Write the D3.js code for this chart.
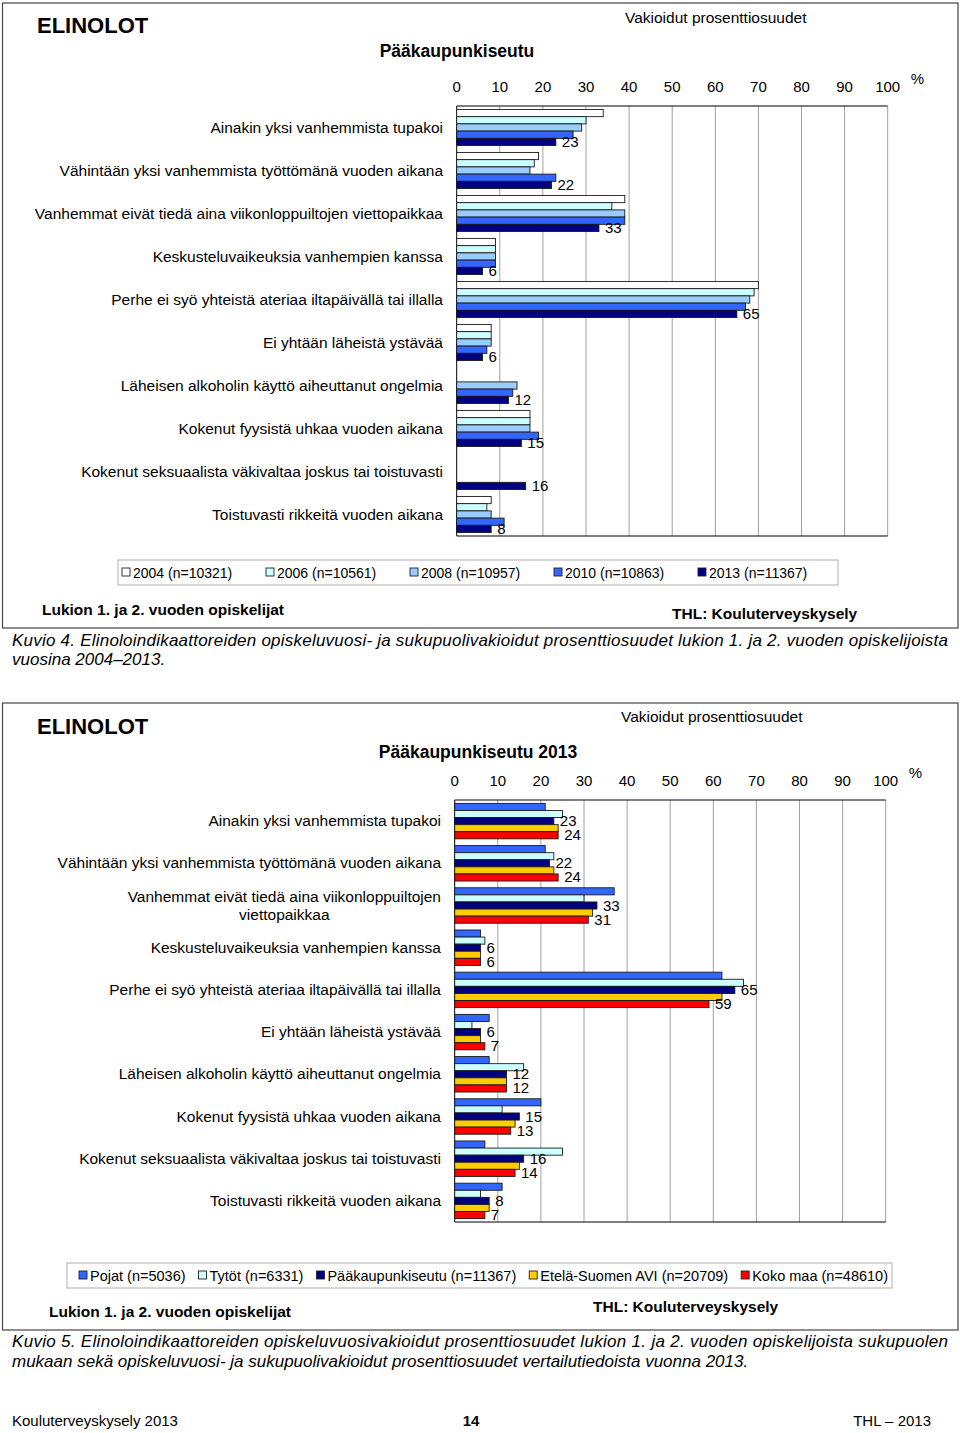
<!DOCTYPE html>
<html><head><meta charset="utf-8">
<script src="https://cdn.jsdelivr.net/npm/d3@7"></script>
<style>body{margin:0;background:#fff}svg{display:block;font-family:"Liberation Sans",Arial,sans-serif}</style>
</head><body><svg id="c" width="960" height="1433"></svg>
<script>
// ---------- DATA ----------
const categoriesTop = [
 "Ainakin yksi vanhemmista tupakoi",
 "Vähintään yksi vanhemmista työttömänä vuoden aikana",
 "Vanhemmat eivät tiedä aina viikonloppuiltojen viettopaikkaa",
 "Keskusteluvaikeuksia vanhempien kanssa",
 "Perhe ei syö yhteistä ateriaa iltapäivällä tai illalla",
 "Ei yhtään läheistä ystävää",
 "Läheisen alkoholin käyttö aiheuttanut ongelmia",
 "Kokenut fyysistä uhkaa vuoden aikana",
 "Kokenut seksuaalista väkivaltaa joskus tai toistuvasti",
 "Toistuvasti rikkeitä vuoden aikana"];
const categoriesBottom = [
 ["Ainakin yksi vanhemmista tupakoi"],
 ["Vähintään yksi vanhemmista työttömänä vuoden aikana"],
 ["Vanhemmat eivät tiedä aina viikonloppuiltojen","viettopaikkaa"],
 ["Keskusteluvaikeuksia vanhempien kanssa"],
 ["Perhe ei syö yhteistä ateriaa iltapäivällä tai illalla"],
 ["Ei yhtään läheistä ystävää"],
 ["Läheisen alkoholin käyttö aiheuttanut ongelmia"],
 ["Kokenut fyysistä uhkaa vuoden aikana"],
 ["Kokenut seksuaalista väkivaltaa joskus tai toistuvasti"],
 ["Toistuvasti rikkeitä vuoden aikana"]];
const seriesTop = ["2004 (n=10321)","2006 (n=10561)","2008 (n=10957)","2010 (n=10863)","2013 (n=11367)"];
const v2004 = [34,19,39,9,70,8,null,17,null,8];
const v2006 = [30,18,36,9,69,8,null,17,null,7];
const v2008 = [29,17,39,9,68,8,14,17,null,8];
const v2010 = [27,23,39,9,67,7,13,19,null,11];
const v2013 = [23,22,33,6,65,6,12,15,16,8];
const seriesBottom = ["Pojat (n=5036)","Tytöt (n=6331)","Pääkaupunkiseutu (n=11367)","Etelä-Suomen AVI (n=20709)","Koko maa (n=48610)"];
const pojat = [21,21,37,6,62,8,8,20,7,11];
const tytot = [25,23,30,7,67,4,16,11,25,6];
const pks   = [23,22,33,6,65,6,12,15,16,8];
const esavi = [24,23,32,6,62,6,12,14,15,8];
const kokomaa=[24,24,31,6,59,7,12,13,14,7];
const ticks = [0,10,20,30,40,50,60,70,80,90,100];

const colorsTop = ["#ffffff","#ccffff","#99ccff","#3366ff","#000080"];
const colorsBottom = ["#3366ff","#ccffff","#000080","#ffcc00","#ff0000"];

const svg = d3.select("#c");
svg.append("rect").attr("width",960).attr("height",1433).attr("fill","#fff");

function panel(y0,y1){
  svg.append("rect").attr("x",2.5).attr("y",y0).attr("width",955.5).attr("height",y1-y0)
    .attr("fill","none").attr("stroke","#444").attr("stroke-width",1.2);
}
function txt(x,y,s,opt={}){
  const t = svg.append("text").attr("x",x).attr("y",y).text(s)
    .attr("font-size",opt.size||15).attr("fill","#000");
  if(opt.bold) t.attr("font-weight","bold");
  if(opt.italic) t.attr("font-style","italic");
  if(opt.anchor) t.attr("text-anchor",opt.anchor);
  if(opt.len) t.attr("textLength",opt.len).attr("lengthAdjust","spacing");
  return t;
}

function chart(cfg){
  const x = d3.scaleLinear().domain([0,100]).range([cfg.x0, cfg.x0+431]);
  const y = d3.scaleBand().domain(d3.range(cfg.cats.length)).range([cfg.top,cfg.bottom])
     .paddingInner(0.16).paddingOuter(0.08);
  const ys = d3.scaleBand().domain(d3.range(cfg.series.length)).range([0,y.bandwidth()]);
  const g = svg.append("g");
  g.selectAll("line.grid").data(ticks.slice(1)).join("line")
    .attr("x1",d=>x(d)).attr("x2",d=>x(d)).attr("y1",cfg.top).attr("y2",cfg.bottom)
    .attr("stroke","#a0a0a0").attr("stroke-width",1);
  g.append("line").attr("x1",x(0)).attr("x2",x(100)).attr("y1",cfg.top).attr("y2",cfg.top).attr("stroke","#000");
  g.append("line").attr("x1",x(0)).attr("x2",x(100)).attr("y1",cfg.bottom).attr("y2",cfg.bottom).attr("stroke","#000");
  g.append("line").attr("x1",x(0)).attr("x2",x(0)).attr("y1",cfg.top).attr("y2",cfg.bottom).attr("stroke","#000");
  g.selectAll("text.tick").data(ticks).join("text")
    .attr("x",d=>x(d)).attr("y",cfg.tickY).attr("text-anchor","middle")
    .attr("font-size",15).text(d=>d);
  g.append("text").attr("x",x(100)+23).attr("y",cfg.tickY-8).attr("font-size",15).text("%");
  cfg.values.forEach((vals,si)=>{
    vals.forEach((v,ci)=>{
      if(v==null) return;
      const by = y(ci)+ys(si);
      g.append("rect").attr("x",x(0)).attr("y",by).attr("width",x(v)-x(0)).attr("height",ys.bandwidth())
        .attr("fill",cfg.colors[si]).attr("stroke","#1a1a1a").attr("stroke-width",0.9);
      if(cfg.labeled.includes(si)){
        g.append("text").attr("x",x(v)+6).attr("y",by+ys.bandwidth()/2+5)
          .attr("font-size",15).text(Math.round(v));
      }
    });
  });
  cfg.cats.forEach((c,ci)=>{
    const lines = Array.isArray(c)?c:[c];
    const cy = y(ci)+y.bandwidth()/2;
    if(lines.length===1){
      g.append("text").attr("x",cfg.labelX).attr("y",cy+5).attr("text-anchor","end")
        .attr("font-size",15.5).text(lines[0]);
    } else {
      const t = g.append("text").attr("font-size",15.5).attr("text-anchor","middle");
      const tmp = g.append("text").attr("font-size",15.5).text(lines[0]);
      const w = tmp.node().getComputedTextLength(); tmp.remove();
      lines.forEach((l,li)=>{
        t.append("tspan").attr("x",cfg.labelX-w/2).attr("y",cy+5+(li-(lines.length-1)/2)*18).text(l);
      });
    }
  });
  const L = cfg.legend;
  g.append("rect").attr("x",L.x).attr("y",L.y).attr("width",L.w).attr("height",25)
    .attr("fill","#fff").attr("stroke","#b0b0b0");
  let lx = L.x+L.pad;
  cfg.series.forEach((s,si)=>{
    g.append("rect").attr("x",lx).attr("y",L.y+8).attr("width",8).attr("height",8)
      .attr("fill",cfg.colors[si]).attr("stroke","#222").attr("stroke-width",0.9);
    const t = g.append("text").attr("x",lx+11).attr("y",L.y+18).attr("font-size",L.size).text(s);
    if(L.step) lx += L.step; else lx += 11 + t.node().getComputedTextLength() + L.gap;
  });
}

// ---------- TOP PANEL ----------
panel(3,628);
txt(37,33,"ELINOLOT",{size:22,bold:true});
txt(625,23,"Vakioidut prosenttiosuudet",{size:15.5});
txt(457,57,"Pääkaupunkiseutu",{size:17.5,bold:true,anchor:"middle"});
chart({x0:456.7, top:106, bottom:536, tickY:92, labelX:443,
  cats:categoriesTop, series:seriesTop, values:[v2004,v2006,v2008,v2010,v2013],
  colors:colorsTop, labeled:[4],
  legend:{x:118,y:560,w:720,step:144,pad:4,size:14}});
txt(42,615,"Lukion 1. ja 2. vuoden opiskelijat",{size:15.5,bold:true});
txt(672,619,"THL: Kouluterveyskysely",{size:15.5,bold:true});
txt(12,646,"Kuvio 4. Elinoloindikaattoreiden opiskeluvuosi- ja sukupuolivakioidut prosenttiosuudet lukion 1. ja 2. vuoden opiskelijoista",{size:17,italic:true,len:936});
txt(12,665,"vuosina 2004–2013.",{size:17,italic:true});

// ---------- BOTTOM PANEL ----------
panel(703,1330);
txt(37,734,"ELINOLOT",{size:22,bold:true});
txt(621,722,"Vakioidut prosenttiosuudet",{size:15.5});
txt(478,758,"Pääkaupunkiseutu 2013",{size:17.5,bold:true,anchor:"middle"});
chart({x0:454.7, top:800, bottom:1222, tickY:786, labelX:441,
  cats:categoriesBottom, series:seriesBottom, values:[pojat,tytot,pks,esavi,kokomaa],
  colors:colorsBottom, labeled:[2,4],
  legend:{x:67,y:1263,w:825,gap:13,pad:12,size:14.5}});
txt(49,1317,"Lukion 1. ja 2. vuoden opiskelijat",{size:15.5,bold:true});
txt(593,1312,"THL: Kouluterveyskysely",{size:15.5,bold:true});
txt(12,1347,"Kuvio 5. Elinoloindikaattoreiden opiskeluvuosivakioidut prosenttiosuudet lukion 1. ja 2. vuoden opiskelijoista sukupuolen",{size:17,italic:true,len:936});
txt(12,1367,"mukaan sekä opiskeluvuosi- ja sukupuolivakioidut prosenttiosuudet vertailutiedoista vuonna 2013.",{size:17,italic:true});

txt(12,1426,"Kouluterveyskysely 2013",{size:15});
txt(471,1426,"14",{size:15,bold:true,anchor:"middle"});
txt(931,1426,"THL – 2013",{size:15,anchor:"end"});
</script></body></html>
